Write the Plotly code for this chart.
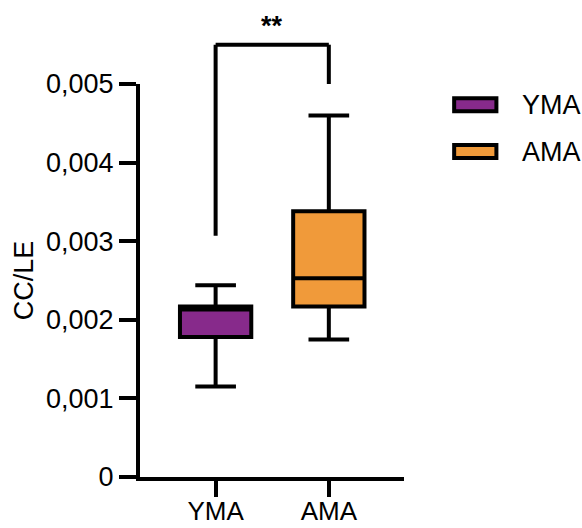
import plotly.graph_objects as go

# Group labels and box statistics (CC/LE ratio)
groups = ["YMA", "AMA"]
colors = ["#872a8b", "#f09a3a"]
lower_whisker = [0.00115, 0.00175]
q1_values = [0.00178, 0.00217]
median_values = [0.00213, 0.00253]
q3_values = [0.00217, 0.00338]
upper_whisker = [0.00244, 0.00460]

# Axis ticks
y_tick_vals = [0, 0.001, 0.002, 0.003, 0.004, 0.005]
y_tick_text = ["0", "0,001", "0,002", "0,003", "0,004", "0,005"]
y_max = 0.005

# Significance bracket between the two groups
sig_label = "**"
bracket_top = 0.0055
bracket_left_end = 0.00307
bracket_right_end = 0.0050
sig_text_y = 0.00574

FONT = "Liberation Sans, Arial, Helvetica, sans-serif"
FS = 27
LW = 4

fig = go.Figure()
for i, g in enumerate(groups):
    fig.add_trace(go.Box(
        x=[g],
        name=g,
        q1=[q1_values[i]],
        median=[median_values[i]],
        q3=[q3_values[i]],
        lowerfence=[lower_whisker[i]],
        upperfence=[upper_whisker[i]],
        fillcolor=colors[i],
        line=dict(color="black", width=LW),
        width=0.63,
        whiskerwidth=0.57,
        boxpoints=False,
        showlegend=False,
        hoverinfo="skip",
    ))

shapes = []
# bracket
for (x0, y0, x1, y1) in [
    (0, bracket_left_end, 0, bracket_top),
    (0, bracket_top, 1, bracket_top),
    (1, bracket_top, 1, bracket_right_end),
]:
    shapes.append(dict(type="line", xref="x", yref="paper",
                       x0=x0, x1=x1, y0=y0 / y_max, y1=y1 / y_max,
                       line=dict(color="black", width=LW)))

annotations = [dict(
    x=0.5, xref="x", y=sig_text_y / y_max, yref="paper",
    text=sig_label, showarrow=False, xanchor="center", yanchor="middle",
    font=dict(family=FONT, size=FS, color="black", weight="bold"),
)]

# legend swatches and labels
legend_x0, legend_x1 = 1.19, 1.35
legend_rows = [0.947, 0.828]
legend_half_h = 0.0165
for i, g in enumerate(groups):
    yc = legend_rows[i]
    shapes.append(dict(type="rect", xref="paper", yref="paper",
                       x0=legend_x0, x1=legend_x1,
                       y0=yc - legend_half_h, y1=yc + legend_half_h,
                       fillcolor=colors[i], line=dict(color="black", width=LW)))
    annotations.append(dict(
        x=1.44, xref="paper", y=yc, yref="paper", text=g, showarrow=False,
        xanchor="left", yanchor="middle",
        font=dict(family=FONT, size=FS, color="black"),
    ))

fig.update_layout(
    width=582, height=528,
    margin=dict(l=140, r=178, t=84, b=51),
    paper_bgcolor="white", plot_bgcolor="white",
    boxmode="overlay",
    font=dict(family=FONT, size=FS, color="black"),
    shapes=shapes,
    annotations=annotations,
    showlegend=False,
)
fig.update_xaxes(
    type="category", automargin=False,
    categoryorder="array", categoryarray=groups,
    range=[-0.668, 1.664],
    showline=True, linecolor="black", linewidth=LW,
    ticks="outside", ticklen=16, tickwidth=LW, tickcolor="black",
    ticklabelstandoff=-8,
    showgrid=False, zeroline=False,
    tickfont=dict(family=FONT, size=26, color="black"),
)
fig.update_yaxes(
    automargin=False,
    range=[0, y_max],
    tickvals=y_tick_vals, ticktext=y_tick_text,
    showline=True, linecolor="black", linewidth=LW,
    ticks="outside", ticklen=17, tickwidth=LW, tickcolor="black",
    showgrid=False, zeroline=False,
    tickfont=dict(family=FONT, size=FS, color="black"),
    title=dict(text="CC/LE", font=dict(family=FONT, size=FS, color="black"), standoff=6),
)

fig.write_html("out.html")
